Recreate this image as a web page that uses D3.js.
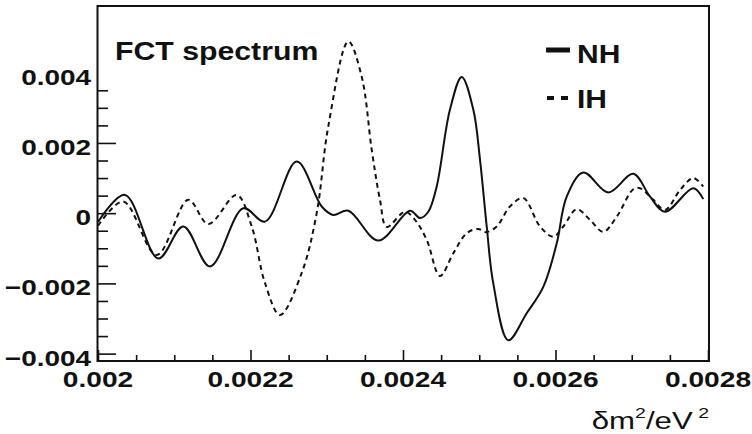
<!DOCTYPE html>
<html>
<head>
<meta charset="utf-8">
<script src="https://cdn.jsdelivr.net/npm/d3@7"></script>
<style>
  html, body { margin: 0; padding: 0; background: #fff; }
  svg { display: block; }
  text { font-family: "Liberation Sans", Arial, Helvetica, sans-serif; fill: #111; }
</style>
</head>
<body>
<svg id="chart" width="752" height="434"></svg>
<script>
// FCT spectrum for normal (NH) and inverted (IH) hierarchy versus delta m^2
const dm2NH = [0.0020000, 0.0020354, 0.0020791, 0.0021119, 0.0021469, 0.0021906, 0.0022190,
  0.0022606, 0.0022934, 0.0023082, 0.0023283, 0.0023676, 0.0024092, 0.0024223, 0.0024332,
  0.0024442, 0.0024616, 0.0024770, 0.0024922, 0.0025010, 0.0025098, 0.0025184, 0.0025381,
  0.0025622, 0.0025840, 0.0026016, 0.0026147, 0.0026365, 0.0026693, 0.0027020, 0.0027240,
  0.0027436, 0.0027807, 0.0027938];
const fctNH = [-0.00025, 0.00052, -0.00129, -0.00038, -0.00152, 0.00014, -0.00024,
  0.00147, 0.00019, -0.00005, 0.00007, -0.00078, 0.00007, -0.00014, 0.00004,
  0.00076, 0.00295, 0.00388, 0.00295, 0.00152, -0.00038, -0.00200, -0.00362,
  -0.00285, -0.00210, -0.00086, 0.00047, 0.00116, 0.00059, 0.00112, 0.00047,
  0.00004, 0.00071, 0.00040];

const dm2IH = [0.0020000, 0.0020332, 0.0020770, 0.0021184, 0.0021447, 0.0021819, 0.0022016,
  0.0022190, 0.0022387, 0.0022672, 0.0022868, 0.0023020, 0.0023283, 0.0023458, 0.0023590,
  0.0023698, 0.0023786, 0.0024026, 0.0024157, 0.0024311, 0.0024485, 0.0024660, 0.0024836,
  0.0024984, 0.0025089, 0.0025229, 0.0025403, 0.0025578, 0.0025797, 0.0025971, 0.0026102,
  0.0026278, 0.0026453, 0.0026627, 0.0026803, 0.0027020, 0.0027108, 0.0027283, 0.0027436,
  0.0027633, 0.0027807, 0.0027938];
const fctIH = [-0.00036, 0.00033, -0.00119, 0.00038, -0.00031, 0.00052, -0.00038,
  -0.00199, -0.00290, -0.00170, 0.00000, 0.00247, 0.00489, 0.00389, 0.00180,
  0.00038, -0.00039, 0.00004, -0.00019, -0.00076, -0.00179, -0.00114, -0.00057,
  -0.00045, -0.00054, -0.00038, 0.00019, 0.00043, -0.00038, -0.00067, -0.00038,
  0.00011, -0.00019, -0.00053, -0.00010, 0.00068, 0.00071, 0.00038, 0.00009,
  0.00066, 0.00100, 0.00076];

const seriesNames = ["NH", "IH"];
const plotTitle = "FCT spectrum";

const xTickValues = [0.0020, 0.0022, 0.0024, 0.0026, 0.0028];
const xTickLabels = ["0.002", "0.0022", "0.0024", "0.0026", "0.0028"];
const yTickValues = [-0.004, -0.002, 0, 0.002, 0.004];
const yTickLabels = ["\u22120.004", "\u22120.002", "0", "0.002", "0.004"];

// ---- layout ----
const svg = d3.select("#chart");
const x = d3.scaleLinear().domain([0.0020, 0.0028]).range([98, 708]);
const y = d3.scaleLinear().domain([-0.00421, 0.0059]).range([361, 6]);
const [x0, x1] = x.range();
const [yb, yt] = y.range();

svg.append("rect").attr("width", 752).attr("height", 434).attr("fill", "#fff");

// text stretched horizontally (wide Helvetica look)
function wideText(parent, px, py, str, k, opts = {}) {
  return parent.append("text")
    .attr("transform", `translate(${px},${py}) scale(${k},1)`)
    .attr("text-anchor", opts.anchor || "start")
    .attr("font-size", opts.size || 22)
    .attr("font-weight", opts.weight || "bold")
    .text(str);
}

// ---- ticks (drawn inward, ROOT style) ----
const ax = svg.append("g");

const yMinorVals = d3.range(-8, 8).map(i => i * 0.0005).filter(v => Math.abs(v * 1000 % 2) > 1e-9);
const yMajorLines = yTickValues.filter(v => v < 0.0039);

ax.append("g").attr("transform", `translate(${x0},0)`)
  .call(d3.axisLeft(y).tickValues(yMajorLines).tickSize(-18).tickFormat(""));
ax.append("g").attr("transform", `translate(${x0},0)`)
  .call(d3.axisLeft(y).tickValues(yMinorVals).tickSize(-10).tickFormat(""));

const xMinorVals = d3.range(40, 57).map(i => i * 0.00005).filter((v, i) => i % 4 !== 0);
ax.append("g").attr("transform", `translate(0,${yb})`)
  .call(d3.axisBottom(x).tickValues(xTickValues).tickSize(-11).tickFormat(""));
ax.append("g").attr("transform", `translate(0,${yb})`)
  .call(d3.axisBottom(x).tickValues(xMinorVals).tickSize(-6).tickFormat(""));

ax.selectAll(".domain").remove();
ax.selectAll(".tick line").attr("stroke", "#111").attr("stroke-width", 1.6);

// ---- curves ----
const line = d3.line()
  .x(d => x(d[0]))
  .y(d => y(d[1]))
  .curve(d3.curveCatmullRom.alpha(0.5));

const plot = svg.append("g");
plot.append("path")
  .datum(dm2IH.map((d, i) => [d, fctIH[i]]))
  .attr("d", line)
  .attr("fill", "none")
  .attr("stroke", "#111")
  .attr("stroke-width", 2)
  .attr("stroke-dasharray", "5,4");

plot.append("path")
  .datum(dm2NH.map((d, i) => [d, fctNH[i]]))
  .attr("d", line)
  .attr("fill", "none")
  .attr("stroke", "#111")
  .attr("stroke-width", 2);

// ---- frame ----
svg.append("rect")
  .attr("x", x0 - 0.5).attr("y", yt)
  .attr("width", x1 - x0 + 1.5).attr("height", yb - yt)
  .attr("fill", "none").attr("stroke", "#111").attr("stroke-width", 2);

// ---- tick labels ----
const labels = svg.append("g");
yTickValues.forEach((v, i) => {
  wideText(labels, 91, y(v) + 12, yTickLabels[i], 1.27, { anchor: "end" });
});
xTickValues.forEach((v, i) => {
  wideText(labels, x(v), 387, xTickLabels[i], 1.28, { anchor: "middle" });
});

// ---- title ----
wideText(svg, 115, 60, plotTitle, 1.21, { size: 25 });

// ---- legend ----
const lg = svg.append("g");
lg.append("line").attr("x1", 546).attr("x2", 570).attr("y1", 50).attr("y2", 50)
  .attr("stroke", "#111").attr("stroke-width", 5);
lg.append("line").attr("x1", 547).attr("x2", 568).attr("y1", 98).attr("y2", 98)
  .attr("stroke", "#111").attr("stroke-width", 4).attr("stroke-dasharray", "7,7");
wideText(lg, 577, 63, seriesNames[0], 1.2, { size: 25 });
wideText(lg, 577, 108, seriesNames[1], 1.2, { size: 25 });

// ---- x-axis title: δm²/eV² ----
const xt = svg.append("text")
  .attr("transform", `translate(709,429) scale(1.3,1)`)
  .attr("text-anchor", "end")
  .attr("font-size", 24);
xt.append("tspan").text("δm");
xt.append("tspan").attr("font-size", 15).attr("dy", -11).text("2");
xt.append("tspan").attr("dy", 11).text("/eV");
xt.append("tspan").attr("font-size", 15).attr("dy", -11).text(" 2");
</script>
</body>
</html>
